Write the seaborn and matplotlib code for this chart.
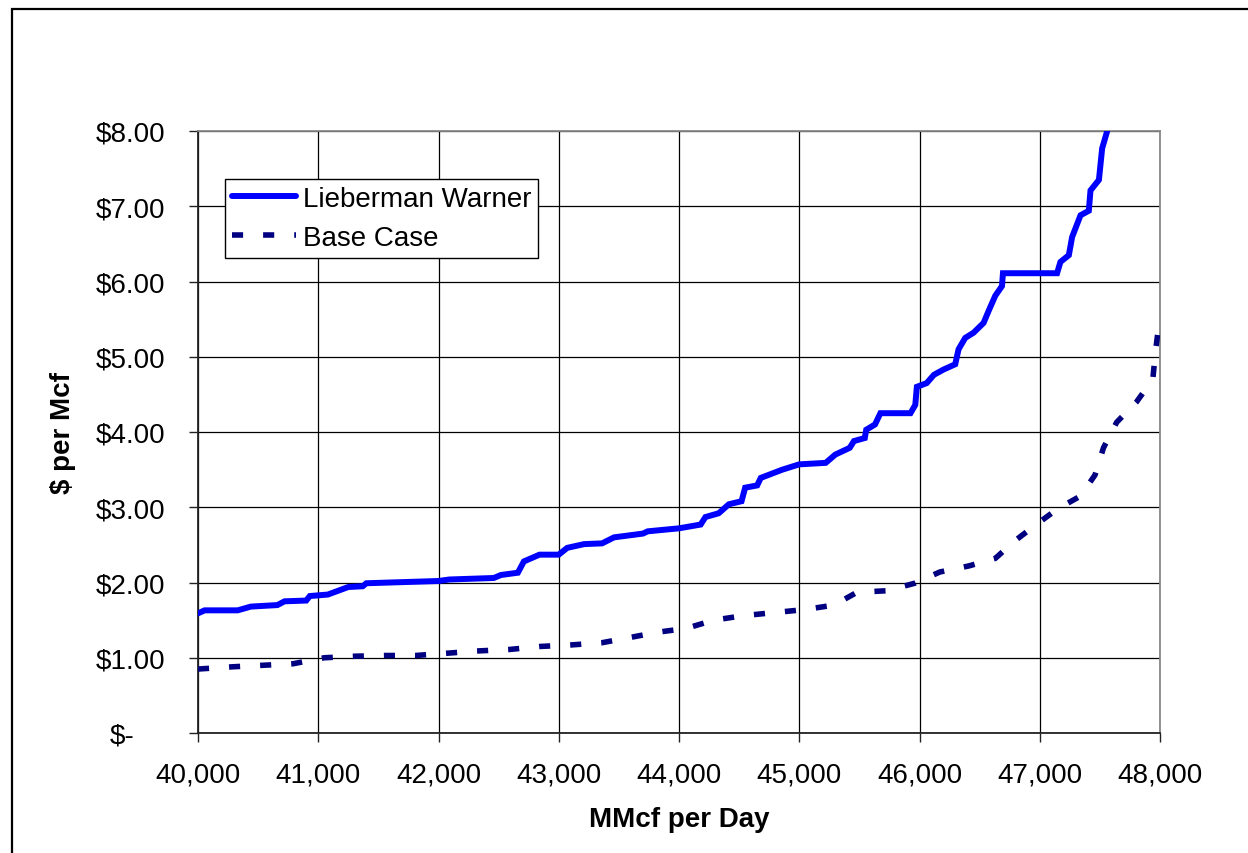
import matplotlib
matplotlib.use("Agg")
import matplotlib.pyplot as plt
import matplotlib.patches as mpatches
import matplotlib.transforms as mtransforms
import seaborn as sns
import pandas as pd

# ---- data ----
lw_x = [40000, 40055, 40330, 40440, 40660, 40720, 40900, 40930, 41080, 41250, 41370, 41400,
        42000, 42090, 42460, 42520, 42660, 42710, 42840, 43000, 43070, 43210, 43360, 43460,
        43700, 43740, 44000, 44180, 44220, 44330, 44415, 44520, 44550, 44650, 44680, 44860,
        45000, 45220, 45300, 45420, 45455, 45545, 45557, 45630, 45675, 45925, 45965, 45978,
        46060, 46120, 46200, 46297, 46325, 46380, 46450, 46533, 46575, 46630, 46686, 46694,
        47144, 47172, 47242, 47269, 47339, 47408, 47422, 47492, 47519, 47561]
lw_y = [1.59, 1.63, 1.63, 1.68, 1.70, 1.75, 1.76, 1.82, 1.84, 1.94, 1.95, 1.99,
        2.02, 2.04, 2.06, 2.10, 2.13, 2.28, 2.37, 2.37, 2.46, 2.51, 2.52, 2.60,
        2.65, 2.68, 2.72, 2.77, 2.87, 2.92, 3.04, 3.08, 3.26, 3.29, 3.39, 3.50,
        3.57, 3.59, 3.70, 3.79, 3.88, 3.92, 4.03, 4.10, 4.25, 4.25, 4.36, 4.60,
        4.65, 4.76, 4.83, 4.90, 5.10, 5.25, 5.32, 5.45, 5.61, 5.81, 5.94, 6.11,
        6.11, 6.26, 6.35, 6.59, 6.88, 6.94, 7.21, 7.35, 7.77, 8.00]

base_x = [40000, 40290, 40540, 40790, 41050, 41300, 41550, 41810, 42070, 42320, 42590, 42845,
          43100, 43360, 43595, 43825, 44060, 44290, 44540, 44790, 45045, 45290, 45480, 45725,
          45960, 46170, 46410, 46630, 46790, 46970, 47150, 47340, 47460, 47530, 47640, 47805,
          47940, 47965, 48000]
base_y = [0.85, 0.88, 0.90, 0.92, 1.00, 1.02, 1.03, 1.03, 1.06, 1.09, 1.11, 1.15,
          1.17, 1.20, 1.27, 1.34, 1.39, 1.50, 1.56, 1.60, 1.64, 1.70, 1.87, 1.89,
          1.99, 2.14, 2.22, 2.32, 2.55, 2.77, 2.98, 3.15, 3.43, 3.79, 4.13, 4.40,
          4.70, 5.10, 5.55]

series_names = ["Lieberman Warner", "Base Case"]
x_ticks = [40000, 41000, 42000, 43000, 44000, 45000, 46000, 47000, 48000]
x_tick_labels = ["40,000", "41,000", "42,000", "43,000", "44,000", "45,000", "46,000", "47,000", "48,000"]
y_ticks = [0, 1, 2, 3, 4, 5, 6, 7, 8]
y_tick_labels = ["$-", "$1.00", "$2.00", "$3.00", "$4.00", "$5.00", "$6.00", "$7.00", "$8.00"]
x_label = "MMcf per Day"
y_label = "$ per Mcf"

# ---- style ----
sns.set_style("ticks")
plt.rcParams["font.family"] = ["Liberation Sans", "DejaVu Sans"]
plt.rcParams["text.color"] = "black"
plt.rcParams["axes.labelcolor"] = "black"
plt.rcParams["xtick.color"] = "black"
plt.rcParams["ytick.color"] = "black"

fig = plt.figure(figsize=(12.48, 8.54), dpi=100)
ax = fig.add_axes([198 / 1248, (854 - 734) / 854, 962 / 1248, 602 / 854])

df_lw = pd.DataFrame({"x": lw_x, "y": lw_y})
df_base = pd.DataFrame({"x": base_x, "y": base_y})

sns.lineplot(data=df_lw, x="x", y="y", ax=ax, color="#0000FF", lw=4.3,
             sort=False, estimator=None, label=series_names[0],
             solid_joinstyle="miter", solid_capstyle="round", zorder=3)
sns.lineplot(data=df_base, x="x", y="y", ax=ax, color="#000080", lw=4.0,
             sort=False, estimator=None, label=series_names[1],
             linestyle=(0, (2.0, 3.6)), dash_capstyle="butt", zorder=3)

ax.set_xlim(40000, 48000)
ax.set_ylim(0, 8)
ax.set_xticks(x_ticks)
ax.set_xticklabels(x_tick_labels)
ax.set_yticks(y_ticks)
ax.set_yticklabels(y_tick_labels)

ax.grid(True, color="black", lw=0.9)
ax.set_axisbelow(True)

for s in ["left", "bottom"]:
    ax.spines[s].set_color("#222222")
    ax.spines[s].set_linewidth(1.3)
for s in ["top", "right"]:
    ax.spines[s].set_color("#888888")
    ax.spines[s].set_linewidth(1.3)

ax.tick_params(axis="x", direction="out", length=6.5, width=1, color="#222222",
               labelcolor="black", labelsize=20, pad=14)
ax.tick_params(axis="y", direction="out", length=6.5, width=1, color="#222222",
               labelcolor="black", labelsize=20, pad=17)

ax.set_xlabel(x_label, fontsize=20, fontweight="bold", labelpad=13, color="black")
ax.set_ylabel(y_label, fontsize=20, fontweight="bold", labelpad=14, color="black")

leg = ax.legend(loc="upper left", bbox_to_anchor=(0.028, 0.920), borderaxespad=0,
                fontsize=20, frameon=True, fancybox=False, handlelength=2.3,
                handletextpad=0.25, borderpad=0.25, labelspacing=0.45)
leg.get_frame().set_edgecolor("black")
leg.get_frame().set_linewidth(1.0)
leg.get_frame().set_alpha(1)
for t in leg.get_texts():
    t.set_color("black")

# accounting-style "$-": dash sits left of the decimal column
zero_label = ax.yaxis.get_major_ticks()[0].label1
zero_label.set_transform(zero_label.get_transform() +
                         mtransforms.ScaledTranslation(-0.31, 0, fig.dpi_scale_trans))

# outer chart border
fig.patches.append(mpatches.Rectangle((12 / 1248, -0.05), 1.1, (854 - 10) / 854 + 0.05,
                                      transform=fig.transFigure, fill=False,
                                      edgecolor="black", lw=1.6, clip_on=False))

fig.savefig("out.png", dpi=100)
